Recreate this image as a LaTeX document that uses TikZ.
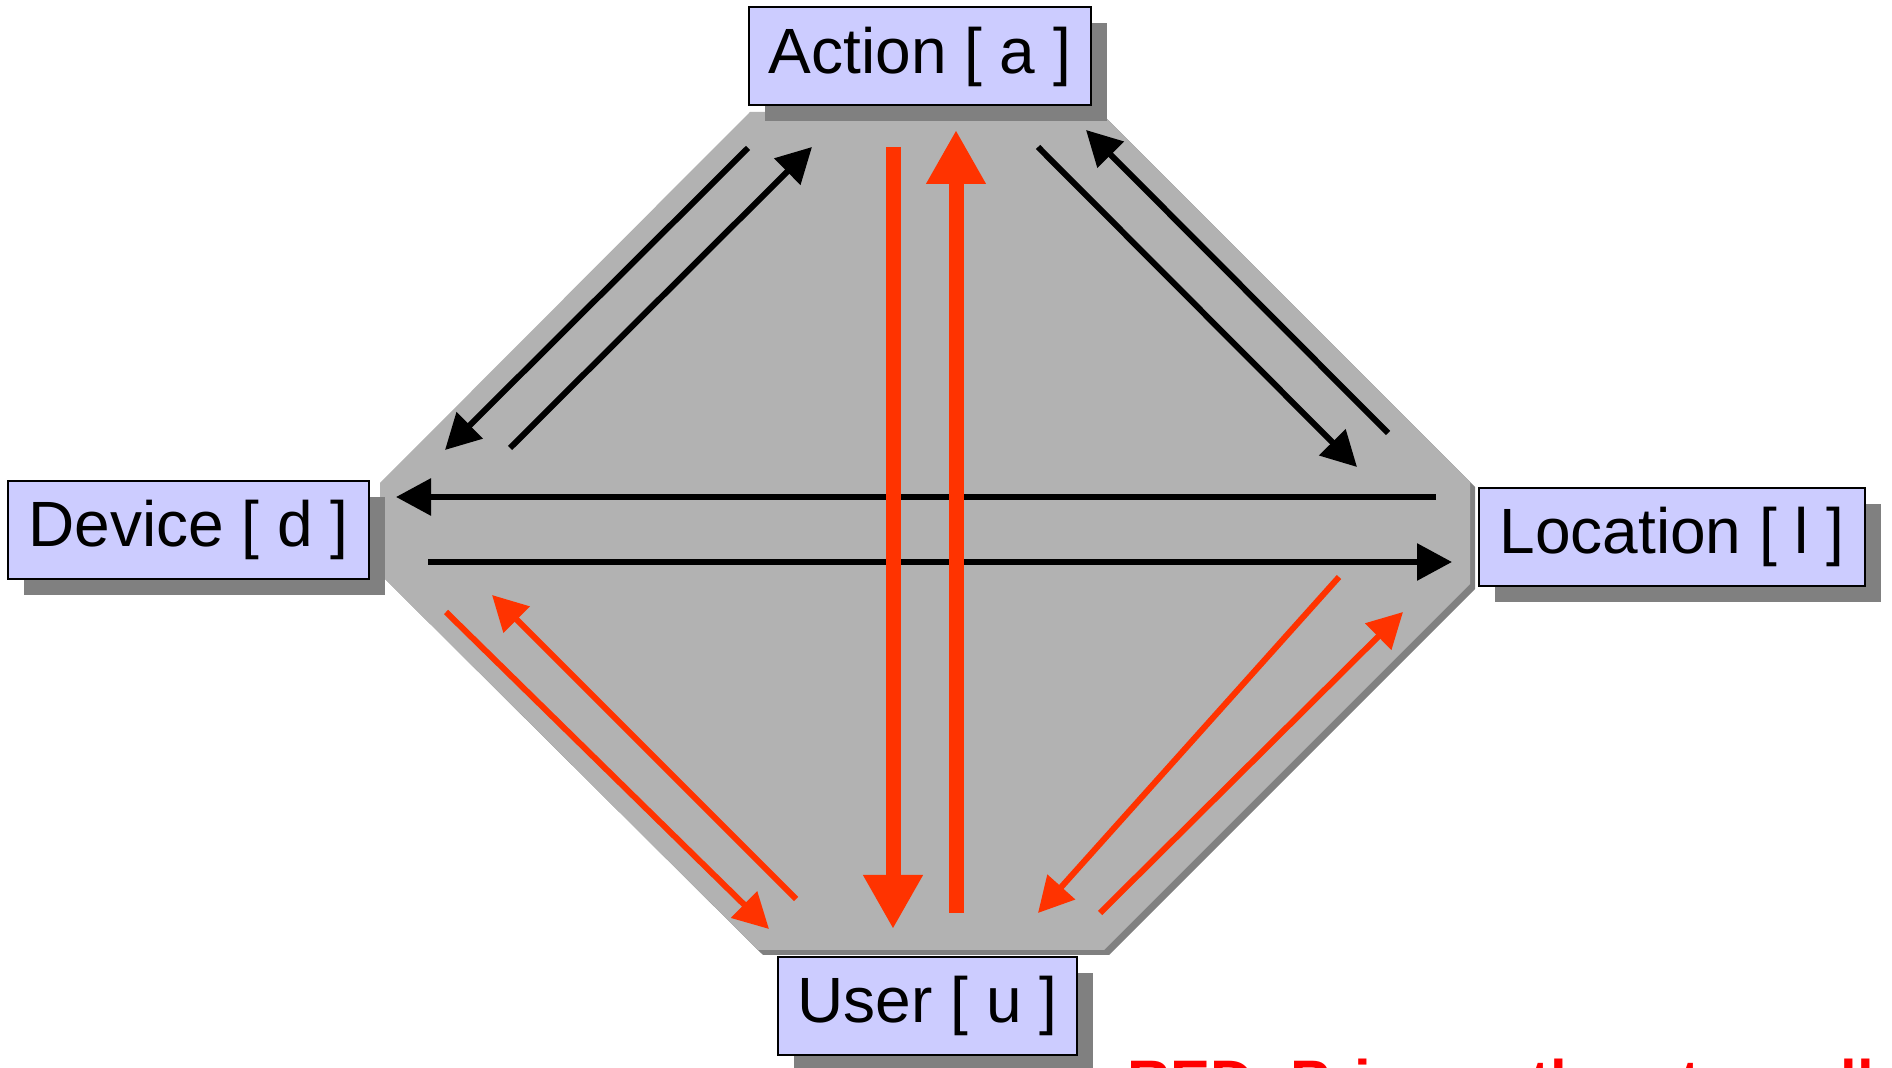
\documentclass[tikz,border=0pt]{standalone}
\usepackage{fontspec}
\setmainfont{Liberation Sans}
\usetikzlibrary{arrows.meta, shadows, positioning}

\definecolor{boxblue}{HTML}{CCCCFF}
\definecolor{shadegray}{HTML}{808080}
\definecolor{octgray}{HTML}{B2B2B2}
\definecolor{flowred}{HTML}{FF3300}
\definecolor{notered}{HTML}{FF0000}

\begin{document}
\begin{tikzpicture}[x = 0.5pt, y = -0.5pt, % one unit = one pixel of the slide
                blackflow/.style = {-{Triangle[length = 17.5pt, width = 18pt]},
                line width = 3pt, black}, % thin black arrows
                redflow/.style = {-{Triangle[length = 17.5pt, width = 18pt]},
                line width = 3pt, flowred}, % thin red arrows
                mainflow/.style = {-{Triangle[length = 27pt, width = 28pt]},
                line width = 7.5pt, flowred} % thick red arrows
            ]

            \tikzstyle{entity}=[draw = black, line width = 1pt, fill = boxblue,
            minimum height = 49pt, inner xsep = 10pt,
            font = \fontsize{32}{38}\selectfont,
            drop shadow = {shadow xshift = 8pt, shadow yshift = -8pt,
            fill = shadegray, opacity = 1}]

            \useasboundingbox (0,0) rectangle (1892,1068);

            % the grey octagon and its shadow
            \fill[shadegray, shift = {(5,5)}] (750,112) -- (1100,112) --
            (1470,482) -- (1470,584) -- (1104,950) -- (758,950) -- (380,574)
            -- (380,483) -- cycle;
            \fill[octgray] (750,112) -- (1100,112) -- (1470,482) --
            (1470,584) -- (1104,950) -- (758,950) -- (380,574) -- (380,483)
            -- cycle;

            \node[entity] (a) at (920,56.5) {Action [ a ]};
            \node[entity] (d) at (188.5,530) {Device [ d ]};
            \node[entity] (l) at (1672,537) {Location [ l ]};
            \node[entity] (u) at (927.5,1006) {User [ u ]};

            % arrow ends
            \coordinate (ad1) at (748,148); \coordinate (da1) at (445,450);
            \coordinate (da2) at (510,448); \coordinate (ad2) at (812,147);
            \coordinate (al1) at (1038,147); \coordinate (la1) at (1357,467);
            \coordinate (la2) at (1388,433); \coordinate (al2) at (1086,130);
            \coordinate (ld1) at (1436,497); \coordinate (dl1) at (396,497);
            \coordinate (dl2) at (428,562); \coordinate (ld2) at (1452,562);
            \coordinate (au1) at (893,147); \coordinate (ua1) at (893,929);
            \coordinate (ua2) at (956,913); \coordinate (au2) at (956,130);
            \coordinate (du1) at (446,612); \coordinate (ud1) at (769,929);
            \coordinate (ud2) at (796,899); \coordinate (du2) at (492,595);
            \coordinate (lu1) at (1339,577); \coordinate (ul1) at (1038,913);
            \coordinate (ul2) at (1100,913); \coordinate (lu2) at (1403,612);

            \draw[blackflow] (ad1) -- (da1); \draw[blackflow] (da2) -- (ad2);
            \draw[blackflow] (al1) -- (la1); \draw[blackflow] (la2) -- (al2);
            \draw[blackflow] (ld1) -- (dl1); \draw[blackflow] (dl2) -- (ld2);
            \draw[mainflow] (au1) -- (ua1); \draw[mainflow] (ua2) -- (au2);
            \draw[redflow] (du1) -- (ud1); \draw[redflow] (ud2) -- (du2);
            \draw[redflow] (lu1) -- (ul1); \draw[redflow] (ul2) -- (lu2);

            % note below the picture, cut by the page edge
            \node[anchor = base west, inner sep = 0pt, text = notered,
            font = \fontsize{30}{36}\selectfont\bfseries] (note) at (1127,1103)
            {RED: Primary thrust on all};
\end{tikzpicture}
\end{document}
